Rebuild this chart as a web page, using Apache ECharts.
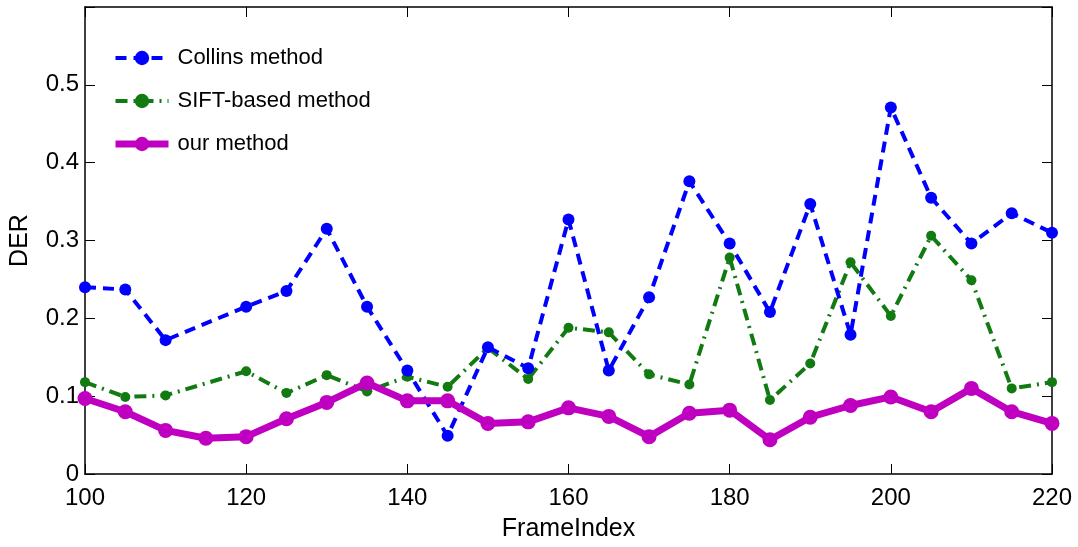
<!DOCTYPE html>
<html lang="en">
<head>
	<meta charset="UTF-8">
	<title>DER</title>
	<script type="text/javascript" src="https://cdn.jsdelivr.net/npm/echarts@6/dist/echarts.min.js"></script>
</head>
<body style="margin:0;">
	<div id="main" style="width: 1078px;height: 547px;"></div>

   <script type="text/javascript">
        var frames = [100,105,110,115,120,125,130,135,140,145,150,155,160,165,170,175,180,185,190,195,200,205,210,215,220];
        // 115 is missing for the first two methods
        var collins = [0.240,0.237,0.172,null,0.215,0.235,0.315,0.215,0.133,0.049,0.163,0.136,0.327,0.133,0.227,0.376,0.296,0.208,0.347,0.179,0.471,0.355,0.296,0.335,0.310];
        var sift = [0.118,0.099,0.101,null,0.132,0.104,0.127,0.106,0.125,0.112,0.162,0.122,0.188,0.182,0.128,0.115,0.278,0.095,0.142,0.272,0.203,0.306,0.249,0.110,0.118];
        var ours = [0.097,0.080,0.056,0.046,0.048,0.071,0.092,0.117,0.094,0.094,0.065,0.067,0.085,0.074,0.048,0.078,0.082,0.044,0.073,0.088,0.099,0.080,0.110,0.080,0.065];

        var pairs = function(arr){
            var out = [];
            for(var i=0;i<frames.length;i++){
                out.push([frames[i], arr[i]]);
            }
            return out;
        };

        var font = 'Liberation Sans, Arial, sans-serif';
        var chart = echarts.init(document.getElementById('main'));

        var option = {
            backgroundColor: '#fff',
            animation: false,
            grid: {left: 84, top: 7, right: 26, bottom: 73},
            legend: {
                orient: 'vertical',
                left: 107,
                top: 42,
                itemWidth: 53,
                itemHeight: 18,
                itemGap: 21,
                textStyle: {fontFamily: font, fontSize: 22, color: '#000', padding: [0, 0, 0, 4]},
                data: [
                    {name: 'Collins method', lineStyle: {width: 4}},
                    {name: 'SIFT-based method', lineStyle: {width: 4}},
                    {name: 'our method', lineStyle: {width: 7}}
                ]
            },
            xAxis: [{
                type: 'value',
                min: 100, max: 220, interval: 20,
                name: 'FrameIndex',
                nameLocation: 'middle',
                nameGap: 43,
                nameTextStyle: {fontFamily: font, fontSize: 25, color: '#000'},
                axisLine: {onZero: false, lineStyle: {color: '#000', width: 1.5}},
                axisTick: {inside: true, length: 10, lineStyle: {color: '#000'}},
                axisLabel: {fontFamily: font, fontSize: 24, color: '#000', margin: 12},
                splitLine: {show: false}
            }, {
                type: 'value', position: 'top',
                min: 100, max: 220, interval: 20,
                axisLine: {show: true, onZero: false, lineStyle: {color: '#000', width: 1.5}},
                axisTick: {inside: true, length: 10, lineStyle: {color: '#000'}},
                axisLabel: {show: false},
                splitLine: {show: false}
            }],
            yAxis: [{
                type: 'value',
                min: 0, max: 0.6, interval: 0.1,
                name: 'DER',
                nameLocation: 'middle',
                nameGap: 52,
                nameTextStyle: {fontFamily: font, fontSize: 25, color: '#000'},
                axisLine: {show: true, onZero: false, lineStyle: {color: '#000', width: 1.5}},
                axisTick: {inside: true, length: 10, lineStyle: {color: '#000'}},
                axisLabel: {
                    fontFamily: font, fontSize: 24, color: '#000', margin: 6,
                    formatter: function(v){ return v >= 0.6 ? '' : String(Math.round(v*10)/10); }
                },
                splitLine: {show: false}
            }, {
                type: 'value', position: 'right',
                min: 0, max: 0.6, interval: 0.1,
                axisLine: {show: true, onZero: false, lineStyle: {color: '#000', width: 1.5}},
                axisTick: {inside: true, length: 10, lineStyle: {color: '#000'}},
                axisLabel: {show: false},
                splitLine: {show: false}
            }],
            series: [{
                name: 'Collins method',
                type: 'line',
                data: pairs(collins),
                connectNulls: true,
                symbol: 'circle',
                symbolSize: 12,
                itemStyle: {color: '#0000ff'},
                lineStyle: {color: '#0000ff', width: 4, type: [11, 7]},
                z: 3
            }, {
                name: 'SIFT-based method',
                type: 'line',
                data: pairs(sift),
                connectNulls: true,
                symbol: 'circle',
                symbolSize: 10,
                itemStyle: {color: '#117a11'},
                lineStyle: {color: '#117a11', width: 4, type: [12, 6, 2, 6]},
                z: 2
            }, {
                name: 'our method',
                type: 'line',
                data: pairs(ours),
                symbol: 'circle',
                symbolSize: 15,
                itemStyle: {color: '#c000c0'},
                lineStyle: {color: '#c000c0', width: 7},
                z: 4
            }]
        };
        chart.setOption(option);
   </script>
</body>
</html>
